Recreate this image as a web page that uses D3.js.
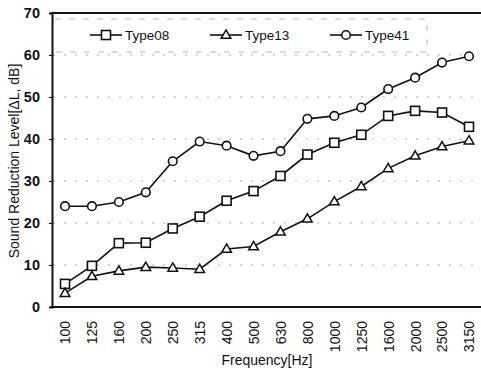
<!DOCTYPE html>
<html><head><meta charset="utf-8">
<script src="https://cdn.jsdelivr.net/npm/d3@7"></script>
<style>body{margin:0;background:#fff}svg{display:block}text{font-family:"Liberation Sans",Arial,sans-serif;fill:#111}</style>
</head><body><div id="c"></div>
<script>
const categories = ["100","125","160","200","250","315","400","500","630","800","1000","1250","1600","2000","2500","3150"];
const type08 = [5.5,9.8,15.2,15.3,18.7,21.5,25.3,27.6,31.2,36.3,39.1,41.0,45.5,46.7,46.3,42.9];
const type13 = [3.3,7.3,8.6,9.5,9.3,9.0,13.8,14.4,17.9,21.0,25.1,28.7,33.0,36.0,38.2,39.6];
const type41 = [24.0,24.0,25.0,27.3,34.7,39.4,38.4,36.0,37.1,44.8,45.5,47.5,51.9,54.6,58.2,59.7];
const yTicks = [0,10,20,30,40,50,60,70];
const seriesNames = ["Type08","Type13","Type41"];

const W=481,H=368;
const svg=d3.select("#c").append("svg").attr("width",W).attr("height",H);
const x=d3.scalePoint().domain(categories).range([65,469]);
const y=d3.scaleLinear().domain([0,70]).range([307,13]);

// gridlines
svg.append("g").selectAll("line").data(yTicks.filter(d=>d>0&&d<70)).join("line")
 .attr("x1",53).attr("x2",478).attr("y1",d=>y(d)).attr("y2",d=>y(d))
 .attr("stroke","#aaa").attr("stroke-width",1).attr("stroke-dasharray","2,9");

// y axis
const ya=svg.append("g").attr("transform","translate(52,0)").call(d3.axisLeft(y).tickValues(yTicks).tickSize(3).tickPadding(9));
ya.select(".domain").attr("stroke","#111").attr("stroke-width",2);
ya.selectAll("text").attr("font-size",14.5).attr("font-weight","bold").attr("font-family","Liberation Sans, Arial");
// x axis
const xa=svg.append("g").attr("transform","translate(0,307)").call(d3.axisBottom(x).tickSize(0).tickPadding(0));
xa.select(".domain").remove();
svg.append("line").attr("x1",51).attr("x2",481).attr("y1",307).attr("y2",307).attr("stroke","#111").attr("stroke-width",2);
svg.append("line").attr("x1",51).attr("x2",481).attr("y1",13).attr("y2",13).attr("stroke","#111").attr("stroke-width",2);
xa.selectAll("text").attr("font-size",14).attr("font-family","Liberation Sans, Arial")
 .attr("dy","0.35em").attr("y",0).attr("x",0)
 .attr("transform","translate(0,14) rotate(-90)").attr("text-anchor","end");

// legend box dashed
svg.append("path").attr("d","M55,19H427V52H55").attr("fill","none").attr("stroke","#bbb").attr("stroke-dasharray","6,8");

function marker(g,shape,cx,cy){
  if(shape==="square") g.append("rect").attr("x",cx-4.5).attr("y",cy-4.5).attr("width",9).attr("height",9).attr("fill","#fff").attr("stroke","#111").attr("stroke-width",1.6);
  else if(shape==="triangle") g.append("path").attr("d",d3.symbol(d3.symbolTriangle,40)()).attr("transform",`translate(${cx},${cy+0.5})`).attr("fill","#fff").attr("stroke","#111").attr("stroke-width",1.5);
  else g.append("circle").attr("cx",cx).attr("cy",cy).attr("r",4.3).attr("fill","#fff").attr("stroke","#111").attr("stroke-width",1.6);
}
const series=[{name:seriesNames[0],vals:type08,shape:"square"},{name:seriesNames[1],vals:type13,shape:"triangle"},{name:seriesNames[2],vals:type41,shape:"circle"}];
const line=d3.line().x((d,i)=>x(categories[i])).y(d=>y(d));
series.forEach(s=>{
  const g=svg.append("g");
  g.append("path").attr("d",line(s.vals)).attr("fill","none").attr("stroke","#111").attr("stroke-width",1.6);
  s.vals.forEach((v,i)=>marker(g,s.shape,x(categories[i]),y(v)));
});
// legend
const lx=[90,210,330];
series.forEach((s,i)=>{
  const g=svg.append("g");
  g.append("line").attr("x1",lx[i]).attr("x2",lx[i]+32).attr("y1",35).attr("y2",35).attr("stroke","#111").attr("stroke-width",1.6);
  marker(g,s.shape,lx[i]+16,35);
  g.append("text").attr("x",lx[i]+35).attr("y",35).attr("dy","0.35em").attr("font-size",13.5).text(s.name);
});
// titles
svg.append("text").attr("transform","translate(14,161) rotate(-90)").attr("text-anchor","middle").attr("dy","0.35em").attr("font-size",14).text("Sound Reduction Level[ΔL, dB]");
svg.append("text").attr("x",267).attr("y",360).attr("text-anchor","middle").attr("dy","0.35em").attr("font-size",14).text("Frequency[Hz]");
</script></body></html>
